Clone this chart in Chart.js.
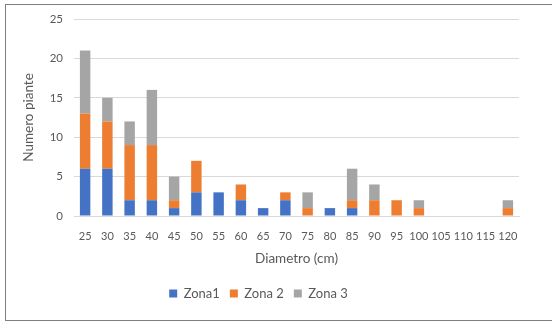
<!DOCTYPE html>
<html>
<head>
<meta charset="utf-8">
<script src="https://cdn.jsdelivr.net/npm/chart.js@4.4.0/dist/chart.umd.min.js"></script>
<style>
  html, body { margin: 0; padding: 0; background: #fff; overflow: hidden; }
  #wrap { position: relative; width: 552px; height: 324px; }
  #frame {
    position: absolute; left: 5px; top: 4px; width: 600px; height: 317px;
    border: 1.5px solid #7f7f7f; box-sizing: border-box;
  }
  canvas { position: absolute; left: 0; top: 0; }
</style>
</head>
<body>
<div id="wrap">
  <div id="frame"></div>
  <canvas id="chart" width="552" height="324"></canvas>
</div>
<script>
// classi di diametro (cm)
const diametri = ['25', '30', '35', '40', '45', '50', '55', '60', '65', '70',
  '75', '80', '85', '90', '95', '100', '105', '110', '115', '120'];

// numero piante per zona
const zona1 = [6, 6, 2, 2, 1, 3, 3, 2, 1, 2, 0, 1, 1, 0, 0, 0, 0, 0, 0, 0];
const zona2 = [7, 6, 7, 7, 1, 4, 0, 2, 0, 1, 1, 0, 1, 2, 2, 1, 0, 0, 0, 1];
const zona3 = [8, 3, 3, 7, 3, 0, 0, 0, 0, 0, 2, 0, 4, 2, 0, 1, 0, 0, 0, 1];

const yTicks = [0, 5, 10, 15, 20, 25];

const FONT = 'Lato, "Open Sans", sans-serif';
const GREY_TEXT = '#595959';

Chart.defaults.font.family = FONT;
Chart.defaults.color = GREY_TEXT;

// sposta un po' la legenda a sinistra
const legendShift = {
  id: 'legendShift',
  afterLayout(chart) {
    chart.legend.left -= 10;
    chart.legend.right -= 10;
  },
};

new Chart(document.getElementById('chart'), {
  type: 'bar',
  data: {
    labels: diametri,
    datasets: [
      { label: 'Zona1', data: zona1, backgroundColor: '#4472c4' },
      { label: 'Zona 2', data: zona2, backgroundColor: '#ed7d31' },
      { label: 'Zona 3', data: zona3, backgroundColor: '#a5a5a5' },
    ],
  },
  plugins: [legendShift],
  options: {
    responsive: false,
    animation: false,
    barPercentage: 0.47,
    categoryPercentage: 1,
    layout: { padding: { left: 18, right: 33, top: 19, bottom: 14 } },
    plugins: {
      tooltip: { enabled: false },
      legend: {
        position: 'bottom',
        labels: {
          boxWidth: 8,
          boxHeight: 8,
          padding: 10,
          font: { size: 13, family: FONT },
          color: GREY_TEXT,
        },
      },
    },
    scales: {
      x: {
        stacked: true,
        grid: { display: false },
        border: { color: '#d9d9d9', width: 1 },
        ticks: { font: { size: 11 }, color: GREY_TEXT, maxRotation: 0, autoSkip: false, padding: 6 },
        title: {
          display: true,
          text: 'Diametro (cm)',
          font: { size: 13.5 },
          color: GREY_TEXT,
          padding: { top: 8, bottom: 10 },
        },
        afterFit: (scale) => { scale.height = 61; },
      },
      y: {
        stacked: true,
        min: 0,
        max: 25,
        afterBuildTicks: (scale) => { scale.ticks = yTicks.map(v => ({ value: v })); },
        grid: { color: '#d9d9d9', drawTicks: false },
        border: { display: false },
        ticks: { font: { size: 11.5 }, color: GREY_TEXT, padding: 11 },
        title: {
          display: true,
          text: 'Numero piante',
          font: { size: 13.5 },
          color: GREY_TEXT,
          padding: { top: 3, bottom: 0 },
        },
        afterFit: (scale) => { scale.width = 56; },
      },
    },
  },
});
</script>
</body>
</html>
